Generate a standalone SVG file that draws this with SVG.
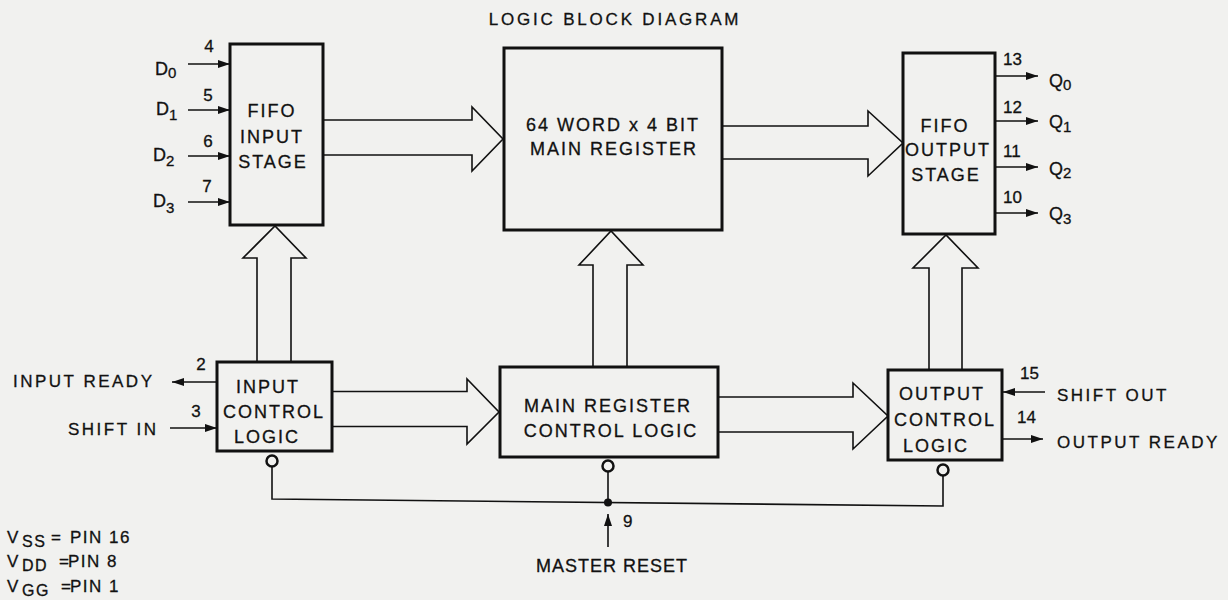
<svg xmlns="http://www.w3.org/2000/svg" width="1228" height="600" viewBox="0 0 1228 600">
<style>
.box{fill:none;stroke:#111;stroke-width:3}
.fat{fill:none;stroke:#111;stroke-width:1.6;stroke-linejoin:miter}
.wire{fill:none;stroke:#111;stroke-width:1.6}
.arr{marker-end:url(#ah)}
.bub{fill:#f1f1ef;stroke:#111;stroke-width:2.5}
text{font-family:"Liberation Sans",Arial,sans-serif;fill:#111;stroke:#111;stroke-width:0.3}
.bl{font-size:18px;letter-spacing:2px;text-anchor:middle}
.sig{font-size:17px;letter-spacing:2.5px}
.num{font-size:17px}
.pin{font-size:18px}
.sub{font-size:15px}
.title{font-size:17px;letter-spacing:2.8px;text-anchor:middle}
.leg{font-size:17px;letter-spacing:1.5px}
.legs{font-size:16px;letter-spacing:1.5px}
</style>
<defs>
<marker id="ah" viewBox="0 0 12 8" refX="12" refY="4" markerWidth="12" markerHeight="8" markerUnits="userSpaceOnUse" orient="auto">
<path d="M0,0 L12,4 L0,8 z" fill="#111"/>
</marker>
</defs>
<rect x="0" y="0" width="1228" height="600" fill="#f1f1ef"/>

<text class="title" x="615" y="25">LOGIC BLOCK DIAGRAM</text>

<g id="fifo-input">
<rect class="box" x="230" y="44" width="93" height="181"/>
<text class="bl" x="272" y="117">FIFO</text>
<text class="bl" x="272" y="143">INPUT</text>
<text class="bl" x="273" y="168">STAGE</text>
</g>

<g id="main-register">
<rect class="box" x="504" y="48" width="218" height="182"/>
<text class="bl" x="613" y="131">64 WORD x 4 BIT</text>
<text class="bl" x="614" y="155">MAIN REGISTER</text>
</g>

<g id="fifo-output">
<rect class="box" x="903" y="53" width="92" height="181"/>
<text class="bl" x="945" y="132">FIFO</text>
<text class="bl" x="948" y="156">OUTPUT</text>
<text class="bl" x="946" y="181">STAGE</text>
</g>

<g id="input-control">
<rect class="box" x="217" y="362" width="115" height="89"/>
<text class="bl" x="268" y="393">INPUT</text>
<text class="bl" x="274" y="418">CONTROL</text>
<text class="bl" x="267" y="443">LOGIC</text>
<circle class="bub" cx="272" cy="461" r="5.5"/>
</g>

<g id="main-control">
<rect class="box" x="500" y="367" width="218" height="90"/>
<text class="bl" x="608" y="412">MAIN REGISTER</text>
<text class="bl" x="611" y="437">CONTROL LOGIC</text>
<circle class="bub" cx="608" cy="466" r="5.5"/>
</g>

<g id="output-control">
<rect class="box" x="888" y="370" width="114" height="90"/>
<text class="bl" x="942" y="400">OUTPUT</text>
<text class="bl" x="945" y="426">CONTROL</text>
<text class="bl" x="936" y="452">LOGIC</text>
<circle class="bub" cx="943" cy="470" r="5.5"/>
</g>

<g id="connectors">
<polyline class="fat" points="323,120 472,120 472,107 503,139 472,171 472,155 323,155"/>
<polyline class="fat" points="722,126 868,126 868,111 903,143 868,176 868,159 722,159"/>
<polyline class="fat" points="332,391.5 467,391.5 467,379 499,412 467,444 467,426.5 332,426.5"/>
<polyline class="fat" points="718,397 853,397 853,383 888,416 853,449 853,432 718,432"/>
<polyline class="fat" points="257,362 257,258 243,258 275,226 306,258 291,258 291,362"/>
<polyline class="fat" points="593,367 593,265 579,265 611,231 643,265 627,265 627,367"/>
<polyline class="fat" points="929,370 929,268 913,268 946,235 978,268 962,268 962,370"/>

<line class="wire arr" x1="188" y1="64" x2="230" y2="64"/>
<line class="wire arr" x1="188" y1="110" x2="230" y2="110"/>
<line class="wire arr" x1="188" y1="156" x2="230" y2="156"/>
<line class="wire arr" x1="188" y1="202" x2="230" y2="202"/>
<line class="wire arr" x1="995" y1="76" x2="1038" y2="76"/>
<line class="wire arr" x1="995" y1="121" x2="1038" y2="121"/>
<line class="wire arr" x1="995" y1="167" x2="1038" y2="167"/>
<line class="wire arr" x1="995" y1="213" x2="1038" y2="213"/>
<line class="wire arr" x1="217" y1="382" x2="172" y2="382"/>
<line class="wire arr" x1="170" y1="428" x2="217" y2="428"/>
<line class="wire arr" x1="1045" y1="392" x2="1003" y2="392"/>
<line class="wire arr" x1="1002" y1="439" x2="1043" y2="439"/>
<polyline class="wire" points="272,466.5 272,499 943,506 943,475.5"/>
<line class="wire" x1="608" y1="471.5" x2="608" y2="502.5"/>
<circle cx="608" cy="502.5" r="4" fill="#111"/>
<line class="wire arr" x1="608" y1="547" x2="608" y2="514"/>
</g>

<g id="labels">
<text class="pin" x="155" y="75">D<tspan class="sub" dy="3">0</tspan></text>
<text class="pin" x="156" y="115">D<tspan class="sub" dy="5">1</tspan></text>
<text class="pin" x="153" y="161">D<tspan class="sub" dy="5">2</tspan></text>
<text class="pin" x="153" y="207">D<tspan class="sub" dy="6">3</tspan></text>
<text class="num" x="209" y="52" text-anchor="middle">4</text>
<text class="num" x="208" y="101" text-anchor="middle">5</text>
<text class="num" x="208" y="147" text-anchor="middle">6</text>
<text class="num" x="207" y="192" text-anchor="middle">7</text>

<text class="pin" x="1049" y="87">Q<tspan class="sub" dy="3">0</tspan></text>
<text class="pin" x="1049" y="128">Q<tspan class="sub" dy="4">1</tspan></text>
<text class="pin" x="1049" y="175">Q<tspan class="sub" dy="3">2</tspan></text>
<text class="pin" x="1049" y="220">Q<tspan class="sub" dy="4">3</tspan></text>
<text class="num" x="1003" y="65">13</text>
<text class="num" x="1003" y="113">12</text>
<text class="num" x="1003" y="157">11</text>
<text class="num" x="1003" y="203">10</text>

<text class="sig" x="13" y="387">INPUT READY</text>
<text class="sig" x="68" y="435">SHIFT IN</text>
<text class="num" x="201" y="370" text-anchor="middle">2</text>
<text class="num" x="196" y="417" text-anchor="middle">3</text>

<text class="sig" x="1057" y="401">SHIFT OUT</text>
<text class="sig" x="1057" y="448">OUTPUT READY</text>
<text class="num" x="1020" y="379">15</text>
<text class="num" x="1017" y="423">14</text>

<text class="num" x="623" y="527">9</text>
<text x="612" y="572" font-size="18" letter-spacing="1" text-anchor="middle">MASTER RESET</text>

<text class="leg" x="7" y="543">V</text>
<text class="legs" x="22" y="547">SS</text>
<text class="leg" x="51" y="543">=</text>
<text class="leg" x="70" y="543">PIN 16</text>
<text class="leg" x="7" y="567">V</text>
<text class="legs" x="22" y="571">DD</text>
<text class="leg" x="59" y="567">=</text>
<text class="leg" x="68" y="567">PIN 8</text>
<text class="leg" x="7" y="592">V</text>
<text class="legs" x="22" y="596">GG</text>
<text class="leg" x="61" y="592">=</text>
<text class="leg" x="70" y="592">PIN 1</text>
</g>
</svg>
